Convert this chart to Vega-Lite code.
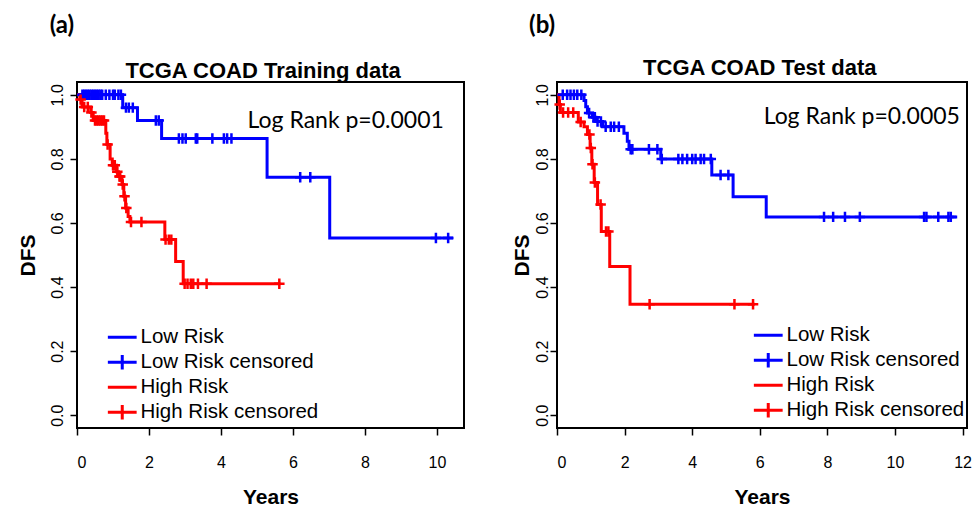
{
  "$schema": "https://vega.github.io/schema/vega-lite/v6.json",
  "background": "white",
  "padding": {"left": 16, "top": 12, "right": 10, "bottom": 4},
  "config": {
    "font": "Liberation Sans",
    "view": {"stroke": "black", "strokeWidth": 2},
    "axis": {"domain": false, "grid": false, "ticks": true, "tickColor": "black", "tickSize": 7, "tickWidth": 1.5, "labelFont": "Liberation Sans", "labelFontSize": 16, "labelColor": "black", "titleFont": "Liberation Sans", "titleFontSize": 21, "titleFontWeight": "bold", "titleColor": "black"},
    "axisX": {"labelPadding": 19, "titlePadding": 16, "labelAngle": 0},
    "axisY": {"labelAngle": -90, "labelAlign": "center", "labelBaseline": "alphabetic", "labelPadding": 8, "titlePadding": 11},
    "legend": {"title": null, "padding": 0, "symbolSize": 64, "symbolStrokeWidth": 3, "symbolFillColor": "transparent", "labelFont": "Liberation Sans", "labelFontSize": 20.5, "labelColor": "black", "labelOffset": 8, "labelLimit": 0, "rowPadding": 1}
  },
  "datasets": {
    "a_steps": [
      {"group": "Low Risk", "t": 0, "s": 1},
      {"group": "Low Risk", "t": 1.27, "s": 0.96},
      {"group": "Low Risk", "t": 1.68, "s": 0.92},
      {"group": "Low Risk", "t": 2.35, "s": 0.864},
      {"group": "Low Risk", "t": 5.28, "s": 0.743},
      {"group": "Low Risk", "t": 7.02, "s": 0.553},
      {"group": "Low Risk", "t": 10.45, "s": 0.553},
      {"group": "High Risk", "t": 0, "s": 1},
      {"group": "High Risk", "t": 0.08, "s": 0.985},
      {"group": "High Risk", "t": 0.14, "s": 0.962},
      {"group": "High Risk", "t": 0.38, "s": 0.945},
      {"group": "High Risk", "t": 0.45, "s": 0.92},
      {"group": "High Risk", "t": 0.8, "s": 0.88},
      {"group": "High Risk", "t": 0.83, "s": 0.845},
      {"group": "High Risk", "t": 0.92, "s": 0.8},
      {"group": "High Risk", "t": 0.98, "s": 0.78},
      {"group": "High Risk", "t": 1.1, "s": 0.76},
      {"group": "High Risk", "t": 1.15, "s": 0.745},
      {"group": "High Risk", "t": 1.25, "s": 0.72},
      {"group": "High Risk", "t": 1.3, "s": 0.683},
      {"group": "High Risk", "t": 1.35, "s": 0.647},
      {"group": "High Risk", "t": 1.42, "s": 0.62},
      {"group": "High Risk", "t": 1.47, "s": 0.603},
      {"group": "High Risk", "t": 2.44, "s": 0.548},
      {"group": "High Risk", "t": 2.74, "s": 0.48},
      {"group": "High Risk", "t": 2.95, "s": 0.41},
      {"group": "High Risk", "t": 5.65, "s": 0.41}
    ],
    "a_cens": [
      {"group": "Low Risk censored", "t": 0.15, "s": 1},
      {"group": "Low Risk censored", "t": 0.2, "s": 1},
      {"group": "Low Risk censored", "t": 0.25, "s": 1},
      {"group": "Low Risk censored", "t": 0.3, "s": 1},
      {"group": "Low Risk censored", "t": 0.35, "s": 1},
      {"group": "Low Risk censored", "t": 0.4, "s": 1},
      {"group": "Low Risk censored", "t": 0.45, "s": 1},
      {"group": "Low Risk censored", "t": 0.5, "s": 1},
      {"group": "Low Risk censored", "t": 0.55, "s": 1},
      {"group": "Low Risk censored", "t": 0.6, "s": 1},
      {"group": "Low Risk censored", "t": 0.65, "s": 1},
      {"group": "Low Risk censored", "t": 0.7, "s": 1},
      {"group": "Low Risk censored", "t": 0.8, "s": 1},
      {"group": "Low Risk censored", "t": 0.9, "s": 1},
      {"group": "Low Risk censored", "t": 1.0, "s": 1},
      {"group": "Low Risk censored", "t": 1.05, "s": 1},
      {"group": "Low Risk censored", "t": 1.15, "s": 1},
      {"group": "Low Risk censored", "t": 1.22, "s": 1},
      {"group": "Low Risk censored", "t": 1.36, "s": 0.96},
      {"group": "Low Risk censored", "t": 1.44, "s": 0.96},
      {"group": "Low Risk censored", "t": 1.55, "s": 0.96},
      {"group": "Low Risk censored", "t": 2.19, "s": 0.92},
      {"group": "Low Risk censored", "t": 2.27, "s": 0.92},
      {"group": "Low Risk censored", "t": 2.83, "s": 0.864},
      {"group": "Low Risk censored", "t": 2.93, "s": 0.864},
      {"group": "Low Risk censored", "t": 3.02, "s": 0.864},
      {"group": "Low Risk censored", "t": 3.3, "s": 0.864},
      {"group": "Low Risk censored", "t": 3.34, "s": 0.864},
      {"group": "Low Risk censored", "t": 3.76, "s": 0.864},
      {"group": "Low Risk censored", "t": 4.08, "s": 0.864},
      {"group": "Low Risk censored", "t": 4.17, "s": 0.864},
      {"group": "Low Risk censored", "t": 4.29, "s": 0.864},
      {"group": "Low Risk censored", "t": 6.2, "s": 0.743},
      {"group": "Low Risk censored", "t": 6.48, "s": 0.743},
      {"group": "Low Risk censored", "t": 9.97, "s": 0.553},
      {"group": "Low Risk censored", "t": 10.31, "s": 0.553},
      {"group": "High Risk censored", "t": 0.1, "s": 0.985},
      {"group": "High Risk censored", "t": 0.2, "s": 0.962},
      {"group": "High Risk censored", "t": 0.3, "s": 0.962},
      {"group": "High Risk censored", "t": 0.4, "s": 0.945},
      {"group": "High Risk censored", "t": 0.5, "s": 0.92},
      {"group": "High Risk censored", "t": 0.55, "s": 0.92},
      {"group": "High Risk censored", "t": 0.6, "s": 0.92},
      {"group": "High Risk censored", "t": 0.65, "s": 0.92},
      {"group": "High Risk censored", "t": 0.7, "s": 0.92},
      {"group": "High Risk censored", "t": 0.75, "s": 0.92},
      {"group": "High Risk censored", "t": 0.85, "s": 0.845},
      {"group": "High Risk censored", "t": 1.0, "s": 0.78},
      {"group": "High Risk censored", "t": 1.05, "s": 0.78},
      {"group": "High Risk censored", "t": 1.12, "s": 0.76},
      {"group": "High Risk censored", "t": 1.18, "s": 0.745},
      {"group": "High Risk censored", "t": 1.2, "s": 0.745},
      {"group": "High Risk censored", "t": 1.27, "s": 0.72},
      {"group": "High Risk censored", "t": 1.32, "s": 0.683},
      {"group": "High Risk censored", "t": 1.37, "s": 0.647},
      {"group": "High Risk censored", "t": 1.5, "s": 0.603},
      {"group": "High Risk censored", "t": 1.79, "s": 0.603},
      {"group": "High Risk censored", "t": 2.46, "s": 0.548},
      {"group": "High Risk censored", "t": 2.55, "s": 0.548},
      {"group": "High Risk censored", "t": 2.62, "s": 0.548},
      {"group": "High Risk censored", "t": 2.99, "s": 0.41},
      {"group": "High Risk censored", "t": 3.07, "s": 0.41},
      {"group": "High Risk censored", "t": 3.16, "s": 0.41},
      {"group": "High Risk censored", "t": 3.23, "s": 0.41},
      {"group": "High Risk censored", "t": 3.36, "s": 0.41},
      {"group": "High Risk censored", "t": 3.6, "s": 0.41},
      {"group": "High Risk censored", "t": 5.62, "s": 0.41}
    ],
    "b_steps": [
      {"group": "Low Risk", "t": 0, "s": 1},
      {"group": "Low Risk", "t": 0.8, "s": 0.982},
      {"group": "Low Risk", "t": 0.85, "s": 0.963},
      {"group": "Low Risk", "t": 0.9, "s": 0.943},
      {"group": "Low Risk", "t": 1.05, "s": 0.93},
      {"group": "Low Risk", "t": 1.15, "s": 0.917},
      {"group": "Low Risk", "t": 1.35, "s": 0.9},
      {"group": "Low Risk", "t": 1.98, "s": 0.88},
      {"group": "Low Risk", "t": 2.08, "s": 0.855},
      {"group": "Low Risk", "t": 2.13, "s": 0.83},
      {"group": "Low Risk", "t": 3.07, "s": 0.8},
      {"group": "Low Risk", "t": 4.58, "s": 0.75},
      {"group": "Low Risk", "t": 5.21, "s": 0.682},
      {"group": "Low Risk", "t": 6.19, "s": 0.619},
      {"group": "Low Risk", "t": 11.84, "s": 0.619},
      {"group": "High Risk", "t": 0, "s": 1},
      {"group": "High Risk", "t": 0.06, "s": 0.97},
      {"group": "High Risk", "t": 0.1, "s": 0.945},
      {"group": "High Risk", "t": 0.63, "s": 0.915},
      {"group": "High Risk", "t": 0.8, "s": 0.9},
      {"group": "High Risk", "t": 0.9, "s": 0.876},
      {"group": "High Risk", "t": 0.98, "s": 0.834},
      {"group": "High Risk", "t": 1.03, "s": 0.783},
      {"group": "High Risk", "t": 1.1, "s": 0.726},
      {"group": "High Risk", "t": 1.2, "s": 0.658},
      {"group": "High Risk", "t": 1.31, "s": 0.573},
      {"group": "High Risk", "t": 1.56, "s": 0.464},
      {"group": "High Risk", "t": 2.16, "s": 0.346},
      {"group": "High Risk", "t": 5.85, "s": 0.346}
    ],
    "b_cens": [
      {"group": "Low Risk censored", "t": 0.17, "s": 1},
      {"group": "Low Risk censored", "t": 0.3, "s": 1},
      {"group": "Low Risk censored", "t": 0.4, "s": 1},
      {"group": "Low Risk censored", "t": 0.5, "s": 1},
      {"group": "Low Risk censored", "t": 0.6, "s": 1},
      {"group": "Low Risk censored", "t": 0.72, "s": 1},
      {"group": "Low Risk censored", "t": 0.95, "s": 0.943},
      {"group": "Low Risk censored", "t": 1.08, "s": 0.93},
      {"group": "Low Risk censored", "t": 1.12, "s": 0.93},
      {"group": "Low Risk censored", "t": 1.2, "s": 0.917},
      {"group": "Low Risk censored", "t": 1.3, "s": 0.917},
      {"group": "Low Risk censored", "t": 1.44, "s": 0.9},
      {"group": "Low Risk censored", "t": 1.59, "s": 0.9},
      {"group": "Low Risk censored", "t": 1.69, "s": 0.9},
      {"group": "Low Risk censored", "t": 1.83, "s": 0.9},
      {"group": "Low Risk censored", "t": 2.18, "s": 0.83},
      {"group": "Low Risk censored", "t": 2.23, "s": 0.83},
      {"group": "Low Risk censored", "t": 2.72, "s": 0.83},
      {"group": "Low Risk censored", "t": 2.97, "s": 0.83},
      {"group": "Low Risk censored", "t": 3.1, "s": 0.8},
      {"group": "Low Risk censored", "t": 3.59, "s": 0.8},
      {"group": "Low Risk censored", "t": 3.71, "s": 0.8},
      {"group": "Low Risk censored", "t": 3.85, "s": 0.8},
      {"group": "Low Risk censored", "t": 4.0, "s": 0.8},
      {"group": "Low Risk censored", "t": 4.1, "s": 0.8},
      {"group": "Low Risk censored", "t": 4.25, "s": 0.8},
      {"group": "Low Risk censored", "t": 4.35, "s": 0.8},
      {"group": "Low Risk censored", "t": 4.55, "s": 0.8},
      {"group": "Low Risk censored", "t": 4.84, "s": 0.75},
      {"group": "Low Risk censored", "t": 5.07, "s": 0.75},
      {"group": "Low Risk censored", "t": 7.9, "s": 0.619},
      {"group": "Low Risk censored", "t": 8.17, "s": 0.619},
      {"group": "Low Risk censored", "t": 8.52, "s": 0.619},
      {"group": "Low Risk censored", "t": 8.96, "s": 0.619},
      {"group": "Low Risk censored", "t": 10.86, "s": 0.619},
      {"group": "Low Risk censored", "t": 10.93, "s": 0.619},
      {"group": "Low Risk censored", "t": 11.28, "s": 0.619},
      {"group": "Low Risk censored", "t": 11.58, "s": 0.619},
      {"group": "Low Risk censored", "t": 11.65, "s": 0.619},
      {"group": "High Risk censored", "t": 0.08, "s": 0.97},
      {"group": "High Risk censored", "t": 0.18, "s": 0.945},
      {"group": "High Risk censored", "t": 0.33, "s": 0.945},
      {"group": "High Risk censored", "t": 0.48, "s": 0.945},
      {"group": "High Risk censored", "t": 0.7, "s": 0.915},
      {"group": "High Risk censored", "t": 0.96, "s": 0.876},
      {"group": "High Risk censored", "t": 1.0, "s": 0.834},
      {"group": "High Risk censored", "t": 1.05, "s": 0.783},
      {"group": "High Risk censored", "t": 1.12, "s": 0.726},
      {"group": "High Risk censored", "t": 1.29, "s": 0.658},
      {"group": "High Risk censored", "t": 1.45, "s": 0.573},
      {"group": "High Risk censored", "t": 1.52, "s": 0.573},
      {"group": "High Risk censored", "t": 2.74, "s": 0.346},
      {"group": "High Risk censored", "t": 5.25, "s": 0.346},
      {"group": "High Risk censored", "t": 5.8, "s": 0.346}
    ],
    "a_notes": [
      {"label": "Log Rank p=0.0001", "kind": "p"},
      {"label": "(a)", "kind": "tag"},
      {"label": "TCGA COAD Training data", "kind": "title"}
    ],
    "b_notes": [
      {"label": "Log Rank p=0.0005", "kind": "p"},
      {"label": "(b)", "kind": "tag"},
      {"label": "TCGA COAD Test data", "kind": "title"}
    ]
  },
  "hconcat": [
    {
      "width": 387,
      "height": 346,
      "layer": [
        {
          "data": {"name": "a_steps"},
          "mark": {"type": "line", "interpolate": "step-after", "strokeWidth": 3},
          "encoding": {
            "x": {"field": "t", "type": "quantitative", "scale": {"domain": [0, 10.75], "nice": false, "zero": false}, "axis": {"values": [0, 2, 4, 6, 8, 10], "title": "Years"}},
            "y": {"field": "s", "type": "quantitative", "scale": {"domain": [-0.04, 1.04], "nice": false, "zero": false}, "axis": {"title": "DFS", "values": [0, 0.2, 0.4, 0.6, 0.8, 1.0], "format": ".1f"}},
            "color": {"field": "group", "type": "nominal", "scale": {"domain": ["Low Risk", "Low Risk censored", "High Risk", "High Risk censored"], "range": ["#0000ff", "#0000ff", "#ff0000", "#ff0000"]},
              "legend": {"orient": "none", "legendX": 35, "legendY": 245, "encode": {"symbols": {"update": {"shape": {"signal": "indexof(datum.value, 'censored') >= 0 ? 'M-3.6,0H3.6M0,-1.8V1.8' : 'M-3.6,0H3.6'"}}}}}}
          }
        },
        {
          "data": {"name": "a_cens"},
          "mark": {"type": "point", "shape": "M-1,0H1M0,-1V1", "size": 110, "filled": false, "strokeWidth": 2.5, "opacity": 1},
          "encoding": {
            "x": {"field": "t", "type": "quantitative"},
            "y": {"field": "s", "type": "quantitative"},
            "color": {"field": "group", "type": "nominal"}
          }
        },
        {
          "data": {"name": "a_notes"},
          "transform": [{"filter": "datum.kind === 'p'"}],
          "mark": {"type": "text", "align": "right", "baseline": "middle", "font": "Lato", "fontSize": 23, "fill": "black"},
          "encoding": {"x": {"datum": 10.19, "type": "quantitative"}, "y": {"datum": 0.918, "type": "quantitative"}, "text": {"field": "label", "type": "nominal"}}
        },
        {
          "data": {"name": "a_notes"},
          "transform": [{"filter": "datum.kind === 'tag'"}],
          "mark": {"type": "text", "align": "center", "baseline": "middle", "font": "Lato", "fontWeight": "bold", "fontSize": 24, "fill": "black"},
          "encoding": {"x": {"datum": -0.42, "type": "quantitative"}, "y": {"datum": 1.215, "type": "quantitative"}, "text": {"field": "label", "type": "nominal"}}
        },
        {
          "data": {"name": "a_notes"},
          "transform": [{"filter": "datum.kind === 'title'"}],
          "mark": {"type": "text", "align": "center", "baseline": "middle", "font": "Liberation Sans", "fontWeight": "bold", "fontSize": 22, "fill": "black"},
          "encoding": {"x": {"datum": 5.17, "type": "quantitative"}, "y": {"datum": 1.075, "type": "quantitative"}, "text": {"field": "label", "type": "nominal"}}
        }
      ]
    },
    {
      "width": 410,
      "height": 346,
      "layer": [
        {
          "data": {"name": "b_steps"},
          "mark": {"type": "line", "interpolate": "step-after", "strokeWidth": 3},
          "encoding": {
            "x": {"field": "t", "type": "quantitative", "scale": {"domain": [0, 12.13], "nice": false, "zero": false}, "axis": {"values": [0, 2, 4, 6, 8, 10, 12], "title": "Years"}},
            "y": {"field": "s", "type": "quantitative", "scale": {"domain": [-0.04, 1.04], "nice": false, "zero": false}, "axis": {"title": "DFS", "values": [0, 0.2, 0.4, 0.6, 0.8, 1.0], "format": ".1f", "labelPadding": 3, "titlePadding": 2}},
            "color": {"field": "group", "type": "nominal", "scale": {"domain": ["Low Risk", "Low Risk censored", "High Risk", "High Risk censored"], "range": ["#0000ff", "#0000ff", "#ff0000", "#ff0000"]},
              "legend": {"orient": "none", "legendX": 201, "legendY": 243, "encode": {"symbols": {"update": {"shape": {"signal": "indexof(datum.value, 'censored') >= 0 ? 'M-3.6,0H3.6M0,-1.8V1.8' : 'M-3.6,0H3.6'"}}}}}}
          }
        },
        {
          "data": {"name": "b_cens"},
          "mark": {"type": "point", "shape": "M-1,0H1M0,-1V1", "size": 110, "filled": false, "strokeWidth": 2.5, "opacity": 1},
          "encoding": {
            "x": {"field": "t", "type": "quantitative"},
            "y": {"field": "s", "type": "quantitative"},
            "color": {"field": "group", "type": "nominal"}
          }
        },
        {
          "data": {"name": "b_notes"},
          "transform": [{"filter": "datum.kind === 'p'"}],
          "mark": {"type": "text", "align": "right", "baseline": "middle", "font": "Lato", "fontSize": 23, "fill": "black"},
          "encoding": {"x": {"datum": 11.92, "type": "quantitative"}, "y": {"datum": 0.932, "type": "quantitative"}, "text": {"field": "label", "type": "nominal"}}
        },
        {
          "data": {"name": "b_notes"},
          "transform": [{"filter": "datum.kind === 'tag'"}],
          "mark": {"type": "text", "align": "center", "baseline": "middle", "font": "Lato", "fontWeight": "bold", "fontSize": 24, "fill": "black"},
          "encoding": {"x": {"datum": -0.44, "type": "quantitative"}, "y": {"datum": 1.215, "type": "quantitative"}, "text": {"field": "label", "type": "nominal"}}
        },
        {
          "data": {"name": "b_notes"},
          "transform": [{"filter": "datum.kind === 'title'"}],
          "mark": {"type": "text", "align": "center", "baseline": "middle", "font": "Liberation Sans", "fontWeight": "bold", "fontSize": 22, "fill": "black"},
          "encoding": {"x": {"datum": 6.0, "type": "quantitative"}, "y": {"datum": 1.083, "type": "quantitative"}, "text": {"field": "label", "type": "nominal"}}
        }
      ]
    }
  ],
  "spacing": 45,
  "resolve": {"scale": {"x": "independent", "y": "independent", "color": "independent"}, "legend": {"color": "independent"}}
}
